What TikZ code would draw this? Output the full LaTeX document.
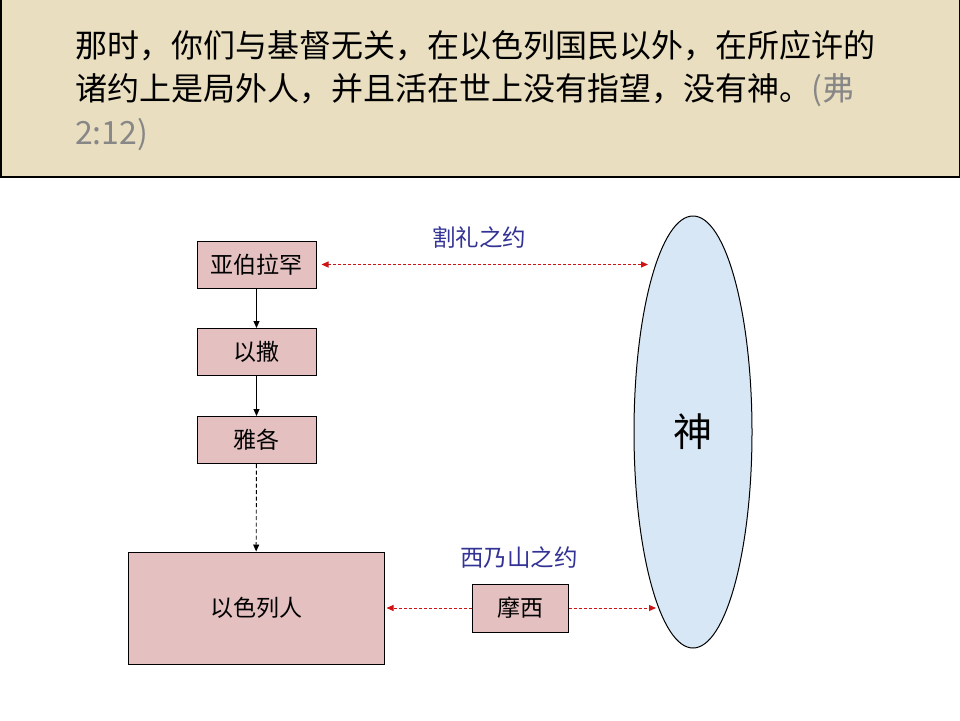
\documentclass[tikz,border=0pt]{standalone}
\usepackage{fontspec}
\setmainfont{Noto Sans CJK SC}
\usetikzlibrary{arrows.meta,shapes.geometric}
\definecolor{parch}{RGB}{233,222,192}
\definecolor{boxpink}{RGB}{228,192,192}
\definecolor{godblue}{RGB}{216,231,245}
\definecolor{navy}{RGB}{51,51,150}
\definecolor{dred}{RGB}{205,20,20}
\definecolor{refgray}{RGB}{135,135,135}
\begin{document}
\begin{tikzpicture}[x=1pt,y=-1pt,
  person/.style={draw=black,line width=1pt,fill=boxpink,minimum width=119pt,minimum height=47pt,inner sep=0pt,font=\fontsize{23}{27}\selectfont},
  covlabel/.style={text=navy,inner sep=0pt,font=\fontsize{23.5}{27}\selectfont},
  descent/.style={draw=black,line width=0.9pt,-{Triangle[length=7pt,width=6pt]}},
  redline/.style={draw=dred,line width=1pt,dash pattern=on 3pt off 2pt},
  covenant/.style={redline,{Triangle[length=7pt,width=6pt]}-{Triangle[length=7pt,width=6pt]}},
  oneway/.style={redline,-{Triangle[length=7pt,width=6pt]}},
  headline/.style={anchor=west,inner sep=0pt,font=\fontsize{32}{40}\selectfont}
]
\useasboundingbox (0,0) rectangle (960,720);
\fill[white] (0,0) rectangle (960,720);
% header
\draw[fill=parch,line width=1.5pt] (0.75,-2) rectangle (959.25,177);
\node[headline] (l1) at (75,46) {那时，你们与基督无关，在以色列国民以外，在所应许的};
\node[headline] (l2) at (75,90.5) {诸约上是局外人，并且活在世上没有指望，没有神。\textcolor{refgray}{(弗}};
\node[headline,text=refgray] (l3) at (75,135) {2:12)};
% nodes
\node[person] (abr) at (256.5,264.5) {亚伯拉罕};
\node[person] (isa) at (256.5,352) {以撒};
\node[person] (jac) at (256.5,440) {雅各};
\node[person,minimum width=256pt,minimum height=112pt] (isr) at (256,608) {以色列人};
\node[person,minimum width=96pt,minimum height=48pt] (mos) at (520,608) {摩西};
\node[draw=black,line width=1pt,fill=godblue,ellipse,minimum width=118pt,minimum height=432pt,inner sep=0pt,font=\fontsize{39}{44}\selectfont] (god) at (693,432) {神};
\node[covlabel] (c1) at (479,238) {割礼之约};
\node[covlabel] (c2) at (519,558) {西乃山之约};
\coordinate (gtop) at (648,264.5);
\coordinate (gbot) at (656,608);
% connectors
\draw[descent] (abr) -- (isa);
\draw[descent] (isa) -- (jac);
\draw[descent,dash pattern=on 4pt off 2.5pt] (jac) -- (isr);
\draw[covenant] ([xshift=5pt]abr.east) -- (gtop);
\draw[oneway] (mos.west) -- ([xshift=2pt]isr.east);
\draw[oneway] (mos.east) -- (gbot);
\end{tikzpicture}
\end{document}
